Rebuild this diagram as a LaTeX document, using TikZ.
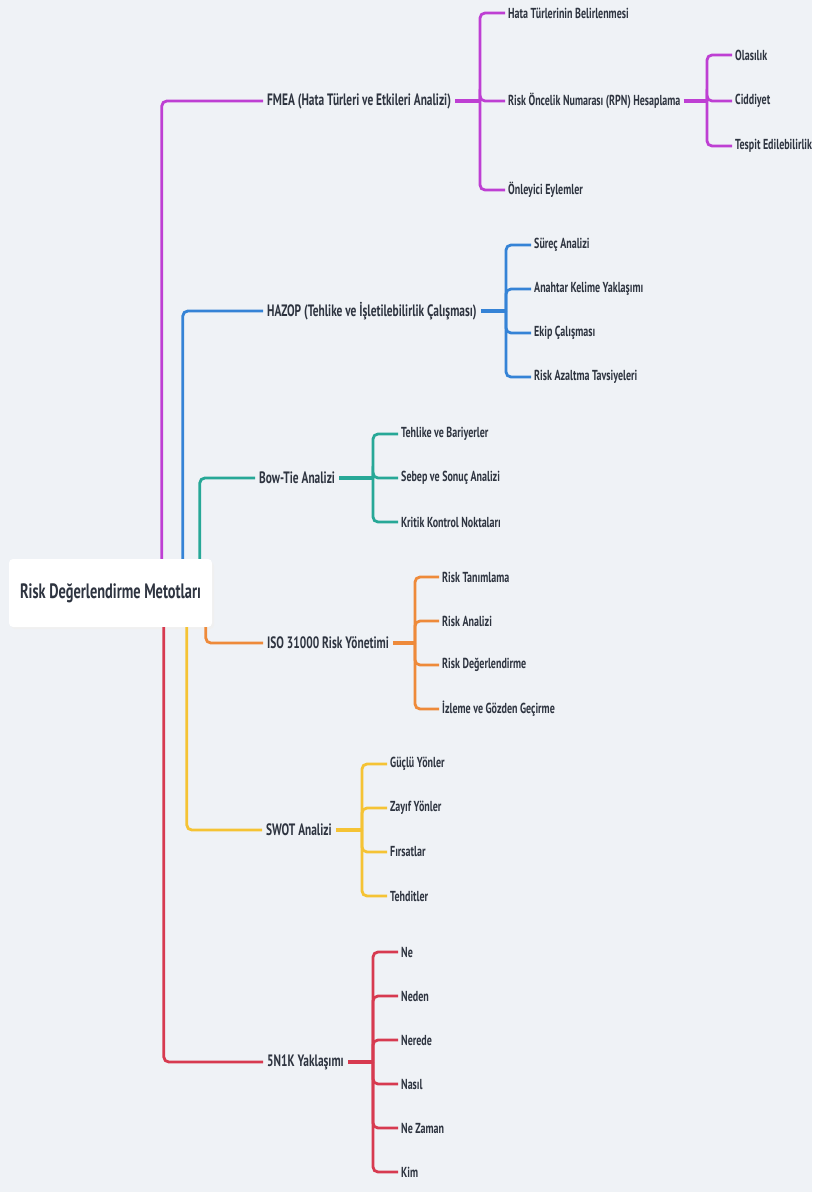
\documentclass[tikz,border=0pt]{standalone}
\usepackage{fontspec}
\setmainfont{PT Sans}[FakeStretch=0.69]
\usetikzlibrary{calc}

\definecolor{bgc}{HTML}{EFF2F6}
\definecolor{ink}{HTML}{2E3440}
\definecolor{cpurple}{HTML}{BE3FD3}
\definecolor{cblue}{HTML}{3583D6}
\definecolor{cteal}{HTML}{27A897}
\definecolor{corange}{HTML}{EE8A3A}
\definecolor{cyellow}{HTML}{F5C334}
\definecolor{cred}{HTML}{D73A50}

\tikzset{
  rootbox/.style={draw=none, fill=white, rounded corners=4pt, text=ink,
    font=\bfseries\fontsize{20.8}{24}\selectfont, minimum width=203pt, minimum height=68pt},
  branch/.style={anchor=west, inner xsep=4pt, inner ysep=2pt, text=ink,
    font=\bfseries\fontsize{16.5}{19}\selectfont},
  leaf/.style={anchor=west, inner xsep=3pt, inner ysep=2pt, text=ink,
    font=\bfseries\fontsize{14.5}{17}\selectfont},
  link/.style={line width=2.8pt, rounded corners=5pt, line cap=butt},
  stub/.style={line width=4pt},
}

\begin{document}
\begin{tikzpicture}[x=1pt, y=-1pt]
  % canvas
  \fill[bgc] (0,0) rectangle (812,1192);
  \useasboundingbox (0,0) rectangle (812,1192);

  % central topic with a soft drop shadow
  \fill[black!6, rounded corners=4pt] (11,562) rectangle (214,629);
  \node[rootbox] (root) at (110.5,593) {Risk Değerlendirme Metotları};

  % main branches
  \node[branch] (fmea)  at (263,101)  {FMEA (Hata Türleri ve Etkileri Analizi)};
  \node[branch] (hazop) at (263,311)  {HAZOP (Tehlike ve İşletilebilirlik Çalışması)};
  \node[branch] (bow)   at (255,478)  {Bow-Tie Analizi};
  \node[branch] (iso)   at (263,643)  {ISO 31000 Risk Yönetimi};
  \node[branch] (swot)  at (262,830)  {SWOT Analizi};
  \node[branch] (nk)    at (263,1062) {5N1K Yaklaşımı};

  % root to branches
  \draw[link, cpurple] ($(root.north west)+(153,0)$) |- (fmea.west);
  \draw[link, cblue]   ($(root.north west)+(174,0)$) |- (hazop.west);
  \draw[link, cteal]   ($(root.north west)+(191,0)$) |- (bow.west);
  \draw[link, corange] ($(root.south west)+(197,0)$) |- (iso.west);
  \draw[link, cyellow] ($(root.south west)+(178,0)$) |- (swot.west);
  \draw[link, cred]    ($(root.south west)+(155,0)$) |- (nk.west);

  % FMEA
  \coordinate (fmeaJ) at (480,101);
  \node[leaf] (f1) at (505,13)  {Hata Türlerinin Belirlenmesi};
  \node[leaf] (f2) at (505,101) {Risk Öncelik Numarası (RPN) Hesaplama};
  \node[leaf] (f3) at (505,190) {Önleyici Eylemler};
  \draw[stub, cpurple] (fmea.east) -- (fmeaJ);
  \foreach \c in {f1,f2,f3} \draw[link, cpurple] (fmeaJ) |- (\c.west);

  % RPN factors
  \coordinate (rpnJ) at (707,101);
  \node[leaf] (r1) at (732,55)  {Olasılık};
  \node[leaf] (r2) at (732,101) {Ciddiyet};
  \node[leaf] (r3) at (732,146) {Tespit Edilebilirlik};
  \draw[stub, cpurple] (f2.east) -- (rpnJ);
  \foreach \c in {r1,r2,r3} \draw[link, cpurple] (rpnJ) |- (\c.west);

  % HAZOP
  \coordinate (hazJ) at (506,311);
  \node[leaf] (h1) at (531,245) {Süreç Analizi};
  \node[leaf] (h2) at (531,289) {Anahtar Kelime Yaklaşımı};
  \node[leaf] (h3) at (531,333) {Ekip Çalışması};
  \node[leaf] (h4) at (531,377) {Risk Azaltma Tavsiyeleri};
  \draw[stub, cblue] (hazop.east) -- (hazJ);
  \foreach \c in {h1,h2,h3,h4} \draw[link, cblue] (hazJ) |- (\c.west);

  % Bow-Tie
  \coordinate (bowJ) at (373,478);
  \node[leaf] (b1) at (398,434) {Tehlike ve Bariyerler};
  \node[leaf] (b2) at (398,478) {Sebep ve Sonuç Analizi};
  \node[leaf] (b3) at (398,522) {Kritik Kontrol Noktaları};
  \draw[stub, cteal] (bow.east) -- (bowJ);
  \foreach \c in {b1,b2,b3} \draw[link, cteal] (bowJ) |- (\c.west);

  % ISO 31000
  \coordinate (isoJ) at (415,643);
  \node[leaf] (i1) at (439,577) {Risk Tanımlama};
  \node[leaf] (i2) at (439,621) {Risk Analizi};
  \node[leaf] (i3) at (439,665) {Risk Değerlendirme};
  \node[leaf] (i4) at (439,709) {İzleme ve Gözden Geçirme};
  \draw[stub, corange] (iso.east) -- (isoJ);
  \foreach \c in {i1,i2,i3,i4} \draw[link, corange] (isoJ) |- (\c.west);

  % SWOT
  \coordinate (swJ) at (362,830);
  \node[leaf] (s1) at (387,764) {Güçlü Yönler};
  \node[leaf] (s2) at (387,808) {Zayıf Yönler};
  \node[leaf] (s3) at (387,852) {Fırsatlar};
  \node[leaf] (s4) at (387,896) {Tehditler};
  \draw[stub, cyellow] (swot.east) -- (swJ);
  \foreach \c in {s1,s2,s3,s4} \draw[link, cyellow] (swJ) |- (\c.west);

  % 5N1K
  \coordinate (nkJ) at (373,1062);
  \node[leaf] (n1) at (398,952)  {Ne};
  \node[leaf] (n2) at (398,996)  {Neden};
  \node[leaf] (n3) at (398,1040) {Nerede};
  \node[leaf] (n4) at (398,1084) {Nasıl};
  \node[leaf] (n5) at (398,1128) {Ne Zaman};
  \node[leaf] (n6) at (398,1172) {Kim};
  \draw[stub, cred] (nk.east) -- (nkJ);
  \foreach \c in {n1,n2,n3,n4,n5,n6} \draw[link, cred] (nkJ) |- (\c.west);
\end{tikzpicture}
\end{document}
